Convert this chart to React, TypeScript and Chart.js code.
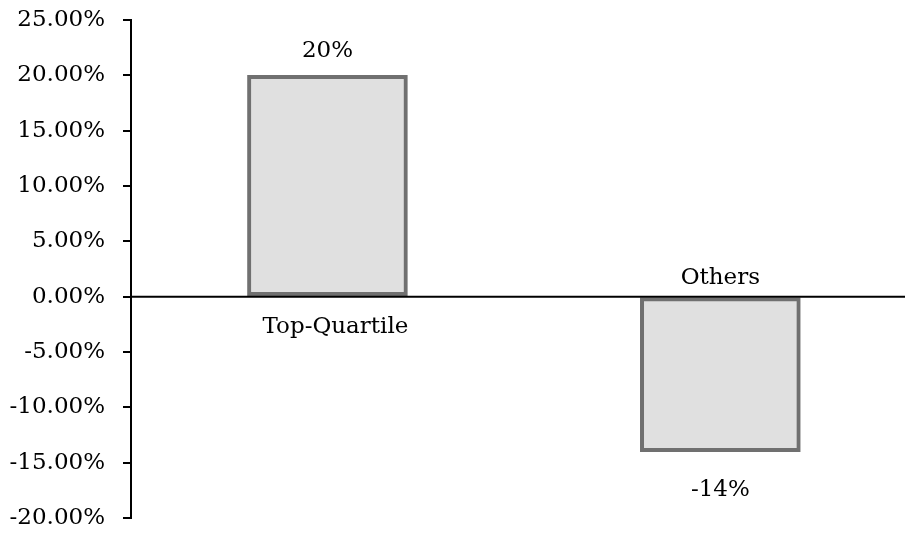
import React, { useEffect, useRef } from "react";
import { Chart, registerables } from "chart.js";

Chart.register(...registerables);

// Data
const categories: string[] = ["Top-Quartile", "Others"];
const values: number[] = [20, -14];
const yMin = -20;
const yMax = 25;
const yStep = 5;

const FONT_FAMILY = "'DejaVu Serif', serif";
const FONT_SIZE = 23;

const labelPlugin = {
  id: "barLabels",
  afterDatasetsDraw(chart: any) {
    const { ctx, chartArea } = chart;
    const yScale = chart.scales.y;
    const y0 = yScale.getPixelForValue(0);
    ctx.save();
    // zero baseline across the plot
    ctx.strokeStyle = "#000";
    ctx.lineWidth = 2;
    ctx.beginPath();
    ctx.moveTo(chartArea.left, y0);
    ctx.lineTo(chart.width, y0);
    ctx.stroke();

    ctx.fillStyle = "#000";
    ctx.font = `${FONT_SIZE}px ${FONT_FAMILY}`;
    ctx.textAlign = "center";
    ctx.textBaseline = "alphabetic";
    const meta = chart.getDatasetMeta(0);
    meta.data.forEach((bar: any, i: number) => {
      const v = values[i];
      const x = bar.x;
      const text = `${Math.round(v)}%`;
      if (v >= 0) {
        // value above the bar, category name just under the axis
        ctx.fillText(text, x, bar.y - 18.5);
        ctx.fillText(categories[i], x + 8, y0 + 36);
      } else {
        // value below the bar, category name just over the axis
        ctx.fillText(text, x, bar.y + 44);
        ctx.fillText(categories[i], x, y0 - 12.5);
      }
    });
    ctx.restore();
  },
};

export default function App() {
  const canvasRef = useRef<HTMLCanvasElement | null>(null);

  useEffect(() => {
    if (!canvasRef.current) return;
    const chart = new Chart(canvasRef.current, {
      type: "bar",
      data: {
        datasets: [
          {
            data: values.map((v, i) => ({ x: i, y: v })),
            backgroundColor: "#e0e0e0",
            borderColor: "#707070",
            borderWidth: 4,
            borderSkipped: false,
            barThickness: 160,
          },
        ],
      },
      options: {
        animation: false,
        responsive: false,
        devicePixelRatio: 1,
        layout: { padding: { top: 20, bottom: 15, left: 0, right: 0 } },
        plugins: {
          legend: { display: false },
          tooltip: { enabled: false },
        },
        scales: {
          x: {
            type: "linear",
            display: false,
            offset: false,
            min: -0.5,
            max: 1.47,
          },
          y: {
            min: yMin,
            max: yMax,
            afterFit(scale: any) {
              scale.width = 131;
              scale.paddingTop = 0;
              scale.paddingBottom = 0;
            },
            border: { display: true, color: "#000", width: 2 },
            grid: {
              drawOnChartArea: false,
              drawTicks: true,
              tickLength: 8,
              color: "#000",
              lineWidth: 2,
            },
            ticks: {
              stepSize: yStep,
              padding: 18,
              color: "#000",
              font: { family: FONT_FAMILY, size: FONT_SIZE },
              callback: (v: any) => `${Number(v).toFixed(2)}%`,
            },
          },
        },
      },
      plugins: [labelPlugin],
    });
    return () => chart.destroy();
  }, []);

  return (
    <div style={{ position: "absolute", left: 0, top: 0, width: 905, height: 533, background: "#fff" }}>
      <canvas ref={canvasRef} width={905} height={533} />
    </div>
  );
}
